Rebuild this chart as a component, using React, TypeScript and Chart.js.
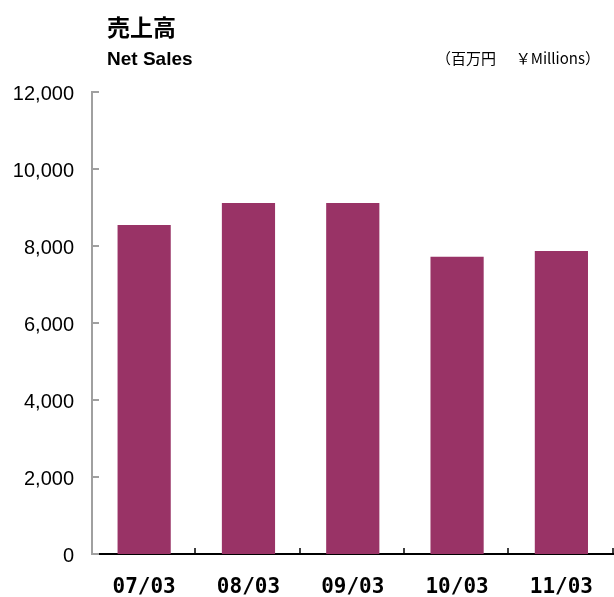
import React, { useEffect, useRef } from "react";
import { Chart, registerables } from "chart.js";

Chart.register(...registerables);

const categories = ["07/03", "08/03", "09/03", "10/03", "11/03"];
const netSales = [8545, 9117, 9117, 7722, 7870];
const yTicks = [0, 2000, 4000, 6000, 8000, 10000, 12000];

const BAR_COLOR = "#993366";

const innerTicks = {
  id: "innerTicks",
  afterDraw(chart: any) {
    const { ctx, scales } = chart;
    const x = scales.x;
    const y = scales.y;
    ctx.save();
    ctx.strokeStyle = "#a0a0a0";
    ctx.lineWidth = 2;
    const left = y.right;
    for (const v of yTicks) {
      const py = Math.round(y.getPixelForValue(v));
      ctx.beginPath();
      ctx.moveTo(left, py);
      ctx.lineTo(left + 7, py);
      ctx.stroke();
    }
    ctx.strokeStyle = "#000000";
    ctx.lineWidth = 1.5;
    const n = categories.length;
    const w = (x.right - x.left) / n;
    for (let i = 1; i <= n; i++) {
      const px = Math.round(x.left + w * i) - 1;
      ctx.beginPath();
      ctx.moveTo(px, y.bottom);
      ctx.lineTo(px, y.bottom - 6);
      ctx.stroke();
    }
    ctx.restore();
  },
};

export default function App() {
  const ref = useRef<HTMLCanvasElement>(null);
  useEffect(() => {
    if (!ref.current) return;
    const chart = new Chart(ref.current, {
      type: "bar",
      data: {
        labels: categories,
        datasets: [
          {
            data: netSales,
            backgroundColor: BAR_COLOR,
            borderWidth: 0,
            barPercentage: 0.51,
            categoryPercentage: 1,
          },
        ],
      },
      options: {
        animation: false,
        responsive: false,
        maintainAspectRatio: false,
        layout: { padding: { top: 92, right: 0, left: 0, bottom: 0 } },
        plugins: {
          legend: { display: false },
          tooltip: { enabled: false },
          title: { display: false },
        },
        scales: {
          x: {
            grid: { display: false, drawTicks: false },
            border: { display: true, color: "#000000", width: 2 },
            ticks: {
              color: "#000000",
              padding: 21,
              font: { family: "'DejaVu Sans Mono'", size: 21, weight: "bold" },
            },
            afterFit(scale: any) {
              scale.height = 43;
            },
          },
          y: {
            min: 0,
            max: 12000,
            grid: { display: false, drawTicks: false },
            border: { display: true, color: "#a0a0a0", width: 2 },
            ticks: {
              stepSize: 2000,
              color: "#000000",
              padding: 18,
              labelOffset: 2,
              font: { family: "'Liberation Sans'", size: 20 },
            },
            afterFit(scale: any) {
              scale.width = 92;
            },
          },
        },
      },
      plugins: [innerTicks],
    });
    return () => chart.destroy();
  }, []);

  return (
    <div style={{ position: "absolute", left: 0, top: 0, width: 614, height: 597, background: "#fff" }}>
      <canvas ref={ref} width={614} height={597} style={{ position: "absolute", left: 0, top: 0 }} />
      <div
        style={{
          position: "absolute",
          left: 107,
          top: 15,
          fontFamily: "'Noto Sans CJK JP'",
          fontWeight: "bold",
          fontSize: 23,
          lineHeight: "23px",
          color: "#000",
          whiteSpace: "nowrap",
        }}
      >
        売上高
      </div>
      <div
        style={{
          position: "absolute",
          left: 107,
          top: 49,
          fontFamily: "'Liberation Sans'",
          fontWeight: "bold",
          fontSize: 19,
          lineHeight: "19px",
          color: "#000",
          whiteSpace: "nowrap",
        }}
      >
        Net Sales
      </div>
      <div
        style={{
          position: "absolute",
          left: 436,
          top: 50,
          fontFamily: "'Noto Sans CJK JP'",
          fontSize: 15,
          lineHeight: "15px",
          color: "#000",
          whiteSpace: "nowrap",
        }}
      >
        （百万円
      </div>
      <div
        style={{
          position: "absolute",
          right: 14,
          top: 50,
          fontFamily: "'Noto Sans CJK JP'",
          fontSize: 15,
          lineHeight: "15px",
          color: "#000",
          whiteSpace: "nowrap",
        }}
      >
        ￥Millions）
      </div>
    </div>
  );
}
